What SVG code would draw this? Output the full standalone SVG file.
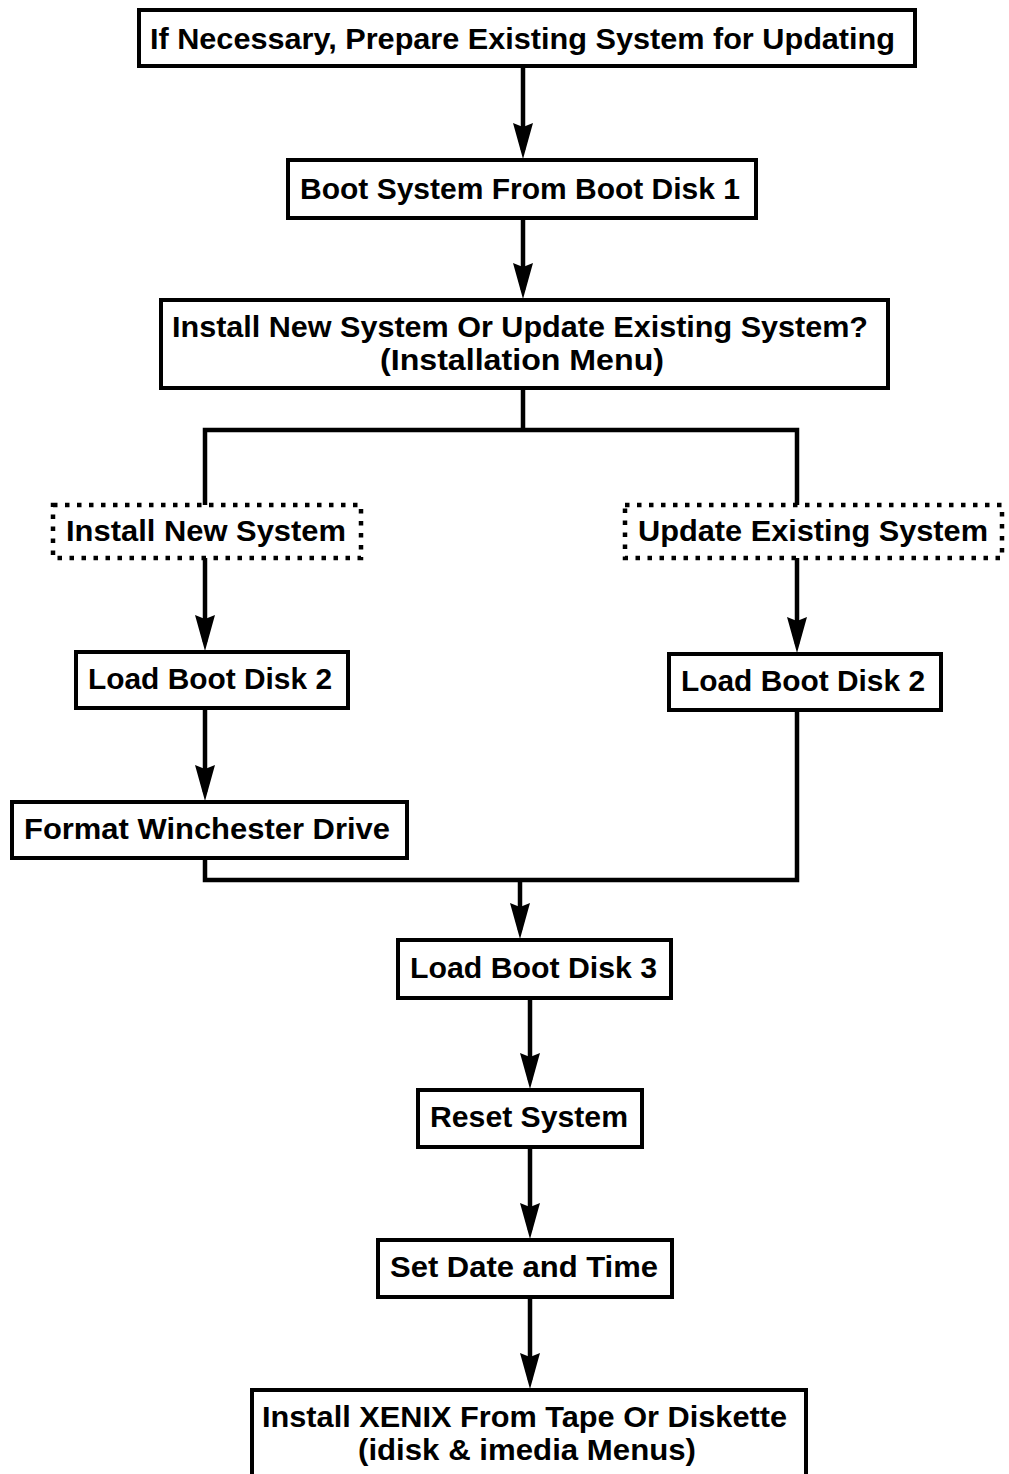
<svg xmlns="http://www.w3.org/2000/svg" width="1009" height="1474" viewBox="0 0 1009 1474">
<style>
.box{fill:#fff;stroke:#000;stroke-width:4}
.dot{fill:none;stroke:#000;stroke-width:4.5;stroke-dasharray:4.5 7.5}
.t{font-family:"Liberation Sans","Arial",sans-serif;font-weight:bold;font-size:29px;fill:#000}
.c{fill:none;stroke:#000;stroke-width:4.5}
.ah{fill:#000}
</style>
<rect width="1009" height="1474" fill="#fff"/>
<g id="connectors">
<path class="c" d="M523,66 V150"/>
<polygon class="ah" points="513,123 523,127 533,123 523,159"/>
<path class="c" d="M523,218 V290"/>
<polygon class="ah" points="513,263 523,267 533,263 523,299"/>
<path class="c" d="M523,388 V430 M205,505 V430 H797 V505"/>
<path class="c" d="M205,558 V642"/>
<polygon class="ah" points="195,615 205,619 215,615 205,651"/>
<path class="c" d="M797,558 V644"/>
<polygon class="ah" points="787,617 797,621 807,617 797,653"/>
<path class="c" d="M205,708 V792"/>
<polygon class="ah" points="195,765 205,769 215,765 205,801"/>
<path class="c" d="M205,858 V880 H797 V710"/>
<path class="c" d="M520,880 V930"/>
<polygon class="ah" points="510,903 520,907 530,903 520,939"/>
<path class="c" d="M530,998 V1080"/>
<polygon class="ah" points="520,1053 530,1057 540,1053 530,1089"/>
<path class="c" d="M530,1147 V1230"/>
<polygon class="ah" points="520,1203 530,1207 540,1203 530,1239"/>
<path class="c" d="M530,1297 V1380"/>
<polygon class="ah" points="520,1353 530,1357 540,1353 530,1389"/>
</g>
<g id="n1"><rect class="box" x="139" y="10" width="776" height="56"/>
<text class="t" x="150" y="49" textLength="745" lengthAdjust="spacingAndGlyphs">If Necessary, Prepare Existing System for Updating</text></g>
<g id="n2"><rect class="box" x="288" y="160" width="468" height="58"/>
<text class="t" x="300" y="199" textLength="440" lengthAdjust="spacingAndGlyphs">Boot System From Boot Disk 1</text></g>
<g id="n3"><rect class="box" x="161" y="300" width="727" height="88"/>
<text class="t" x="172" y="337" textLength="696" lengthAdjust="spacingAndGlyphs">Install New System Or Update Existing System?</text>
<text class="t" x="380" y="370" textLength="284" lengthAdjust="spacingAndGlyphs">(Installation Menu)</text></g>
<g id="n4"><rect class="dot" x="53" y="505" width="308" height="53"/>
<text class="t" x="66" y="541" textLength="280" lengthAdjust="spacingAndGlyphs">Install New System</text></g>
<g id="n5"><rect class="dot" x="625" y="505" width="377" height="53"/>
<text class="t" x="638" y="541" textLength="350" lengthAdjust="spacingAndGlyphs">Update Existing System</text></g>
<g id="n6"><rect class="box" x="76" y="652" width="272" height="56"/>
<text class="t" x="88" y="689" textLength="244" lengthAdjust="spacingAndGlyphs">Load Boot Disk 2</text></g>
<g id="n7"><rect class="box" x="669" y="654" width="272" height="56"/>
<text class="t" x="681" y="691" textLength="244" lengthAdjust="spacingAndGlyphs">Load Boot Disk 2</text></g>
<g id="n8"><rect class="box" x="12" y="802" width="395" height="56"/>
<text class="t" x="24" y="839" textLength="366" lengthAdjust="spacingAndGlyphs">Format Winchester Drive</text></g>
<g id="n9"><rect class="box" x="398" y="940" width="273" height="58"/>
<text class="t" x="410" y="978" textLength="247" lengthAdjust="spacingAndGlyphs">Load Boot Disk 3</text></g>
<g id="n10"><rect class="box" x="418" y="1090" width="224" height="57"/>
<text class="t" x="430" y="1127" textLength="198" lengthAdjust="spacingAndGlyphs">Reset System</text></g>
<g id="n11"><rect class="box" x="378" y="1240" width="294" height="57"/>
<text class="t" x="390" y="1277" textLength="268" lengthAdjust="spacingAndGlyphs">Set Date and Time</text></g>
<g id="n12"><rect class="box" x="252" y="1390" width="554" height="90"/>
<text class="t" x="262" y="1427" textLength="525" lengthAdjust="spacingAndGlyphs">Install XENIX From Tape Or Diskette</text>
<text class="t" x="358" y="1460" textLength="338" lengthAdjust="spacingAndGlyphs">(idisk &amp; imedia Menus)</text></g>
</svg>
